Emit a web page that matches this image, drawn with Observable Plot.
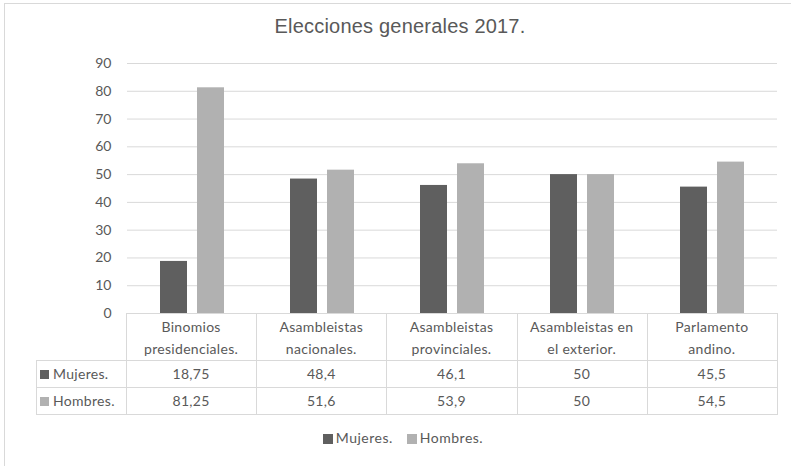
<!DOCTYPE html>
<html>
<head>
<meta charset="utf-8">
<script src="https://cdn.jsdelivr.net/npm/d3@7"></script>
<script src="https://cdn.jsdelivr.net/npm/@observablehq/plot@0.6"></script>
<style>
  html, body { margin: 0; padding: 0; background: #fff; overflow: hidden; }
  #wrap { position: relative; width: 791px; height: 466px; overflow: hidden; font-family: Lato, "Open Sans", sans-serif; color: #595959; }
  #frame { position: absolute; left: 4px; top: 3px; width: 820px; height: 500px; border: 1px solid #d9d9d9; box-sizing: border-box; }
  #title { position: absolute; left: 0; width: 800px; top: 14px; text-align: center; font-family: "Liberation Sans", Arial, sans-serif; font-size: 20px; letter-spacing: 0.2px; line-height: 24px; color: #595959; }
  #chart { position: absolute; left: 0; top: 0; }
  .cell { position: absolute; box-sizing: border-box; display: flex; align-items: center; justify-content: center; text-align: center; font-size: 14px; letter-spacing: 0.3px; line-height: 22px; color: #595959; }
  .hl { position: absolute; height: 1px; background: #d9d9d9; }
  .vl { position: absolute; width: 1px; background: #d9d9d9; }
  .sw { display: inline-block; width: 9px; height: 9px; margin-right: 4px; }
  #legend { position: absolute; left: 0; width: 806px; top: 428px; text-align: center; font-size: 14px; letter-spacing: 0.5px; line-height: 20px; color: #595959; }
  #legend span.item { margin: 0 7px; white-space: nowrap; }
  #legend .sw { width: 10px; height: 10px; margin-right: 3px; vertical-align: -1px; }
</style>
</head>
<body>
<div id="wrap">
  <div id="frame"></div>
  <div id="chart"></div>
  <div id="title">Elecciones generales 2017.</div>
  <div id="legend"></div>
</div>
<script>
const categories = ["Binomios\npresidenciales.", "Asambleistas\nnacionales.", "Asambleistas\nprovinciales.", "Asambleistas en\nel exterior.", "Parlamento\nandino."];
const series = ["Mujeres.", "Hombres."];
const mujeres = [18.75, 48.4, 46.1, 50, 45.5];
const hombres = [81.25, 51.6, 53.9, 50, 54.5];
const mujeresLabels = ["18,75", "48,4", "46,1", "50", "45,5"];
const hombresLabels = ["81,25", "51,6", "53,9", "50", "54,5"];
const yTicks = [0, 10, 20, 30, 40, 50, 60, 70, 80, 90];
const colors = ["#5f5f5f", "#b1b1b1"];

const rows = [];
categories.forEach((c, i) => {
  rows.push({cat: c, serie: series[0], value: mujeres[i]});
  rows.push({cat: c, serie: series[1], value: hombres[i]});
});

const W = 791, H = 466;
const chart = Plot.plot({
  width: W,
  height: H,
  marginLeft: 126,
  marginRight: 14,
  marginTop: 63,
  marginBottom: H - 313,
  style: {fontFamily: "Lato, 'Open Sans', sans-serif", fontSize: "14px", color: "#595959", background: "transparent"},
  fx: {domain: categories, padding: 0, axis: null},
  x: {domain: series, paddingInner: 0.263, paddingOuter: 0.844, axis: null},
  y: {domain: [0, 90], ticks: yTicks, tickSize: 0, tickPadding: 16, label: null, tickFormat: d => String(d)},
  color: {domain: series, range: colors},
  marks: [
    Plot.ruleY(yTicks.filter(d => d > 0), {stroke: "#d9d9d9", strokeWidth: 1}),
    Plot.barY(rows, {fx: "cat", x: "serie", y: "value", fill: "serie"}),
    Plot.ruleY([0], {stroke: "#d9d9d9", strokeWidth: 1})
  ]
});
document.getElementById("chart").appendChild(chart);

// Data table, aligned with the fx facet scale
const fxs = chart.scale("fx");
const band = d3.scaleBand().domain(fxs.domain).range(fxs.range).paddingInner(0).paddingOuter(0);
const leftOf = c => band(c);
const bw = band.bandwidth();
const tableLeft = 36, top0 = 313, top1 = 360, top2 = 387, top3 = 414;
const plotLeft = band.range()[0], plotRight = band.range()[1];
const wrap = document.getElementById("wrap");
function add(cls, st, html) {
  const d = document.createElement("div");
  d.className = cls;
  Object.assign(d.style, st);
  if (html != null) d.innerHTML = html;
  wrap.appendChild(d);
  return d;
}
add("hl", {left: tableLeft + "px", top: top1 + "px", width: (plotRight - tableLeft + 1) + "px"});
add("hl", {left: tableLeft + "px", top: top2 + "px", width: (plotRight - tableLeft + 1) + "px"});
add("hl", {left: tableLeft + "px", top: top3 + "px", width: (plotRight - tableLeft + 1) + "px"});
add("vl", {left: tableLeft + "px", top: top1 + "px", height: (top3 - top1) + "px"});
categories.forEach(c => add("vl", {left: leftOf(c) + "px", top: top0 + "px", height: (top3 - top0) + "px"}));
add("vl", {left: plotRight + "px", top: top0 + "px", height: (top3 - top0 + 1) + "px"});
categories.forEach(c => add("cell", {left: leftOf(c) + "px", top: (top0 + 2) + "px", width: bw + "px", height: (top1 - top0 - 2) + "px"}, c.replace("\n", "<br>")));
const rowTops = [top1, top2];
series.forEach((s, j) => {
  add("cell", {left: (tableLeft + 4) + "px", top: (rowTops[j] + 1) + "px", width: (plotLeft - tableLeft - 4) + "px", height: "26px", justifyContent: "flex-start"},
    `<span class="sw" style="background:${colors[j]}"></span>${s}`);
});
categories.forEach((c, i) => {
  add("cell", {left: leftOf(c) + "px", top: (top1 + 1) + "px", width: bw + "px", height: "26px"}, mujeresLabels[i]);
  add("cell", {left: leftOf(c) + "px", top: (top2 + 1) + "px", width: bw + "px", height: "26px"}, hombresLabels[i]);
});
document.getElementById("legend").innerHTML = series.map((s, j) =>
  `<span class="item"><span class="sw" style="background:${colors[j]}"></span>${s}</span>`).join("");
</script>
</body>
</html>
